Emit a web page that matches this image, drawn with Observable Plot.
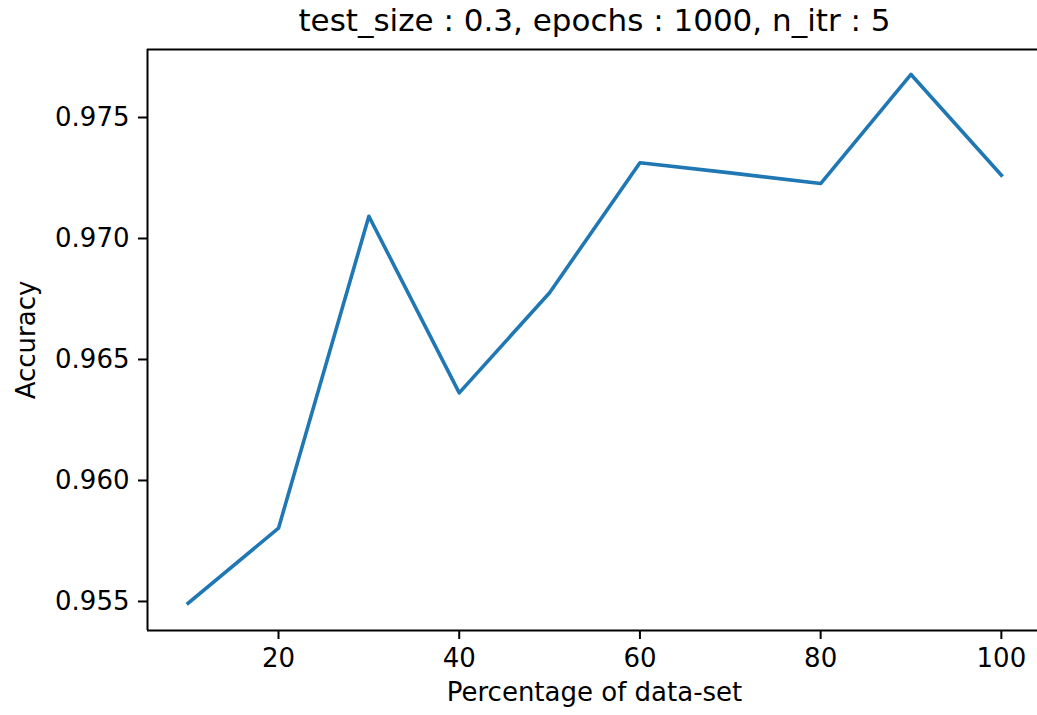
<!DOCTYPE html>
<html>
<head>
<meta charset="utf-8">
<script src="https://cdn.jsdelivr.net/npm/d3@7"></script>
<script src="https://cdn.jsdelivr.net/npm/@observablehq/plot@0.6"></script>
<style>
  html, body { margin: 0; padding: 0; background: #fff; }
  #chart svg { display: block; }
</style>
</head>
<body>
<div id="chart"></div>
<script>
const titleText = "test_size : 0.3, epochs : 1000, n_itr : 5";
const xLabel = "Percentage of data-set";
const yLabel = "Accuracy";
const percentages = [10, 20, 30, 40, 50, 60, 70, 80, 90, 100];
const accuracy = [0.95493, 0.95803, 0.97092, 0.96362, 0.96776, 0.97313, 0.97271, 0.97227, 0.97678, 0.97262];
const xTicks = [20, 40, 60, 80, 100];
const yTicks = [0.955, 0.960, 0.965, 0.970, 0.975];
const xDomain = [5.5, 104];
const yDomain = [0.9538, 0.97781];

const data = percentages.map((p, i) => ({pct: p, acc: accuracy[i]}));

const chart = Plot.plot({
  width: 1037,
  height: 715,
  marginLeft: 147,
  marginRight: 0,
  marginTop: 49,
  marginBottom: 85,
  style: {fontFamily: "DejaVu Sans", fontSize: "26px", color: "#000", background: "#fff"},
  x: {domain: xDomain, ticks: xTicks, label: null},
  y: {domain: yDomain, ticks: yTicks, label: null},
  marks: [
    Plot.axisX({ticks: xTicks, tickSize: 9, tickPadding: 9, strokeWidth: 2, tickFormat: d3.format("d"), label: null}),
    Plot.axisY({ticks: yTicks, tickSize: 9, tickPadding: 9, strokeWidth: 2, tickFormat: d3.format(".3f"), label: null}),
    Plot.ruleX([xDomain[0]], {stroke: "#000", strokeWidth: 2}),
    Plot.ruleY([yDomain[0], yDomain[1]], {stroke: "#000", strokeWidth: 2}),
    Plot.line(data, {x: "pct", y: "acc", stroke: "#1f77b4", strokeWidth: 3.6, strokeLinejoin: "round", strokeLinecap: "square"}),
    Plot.text([titleText], {frameAnchor: "top", lineAnchor: "middle", textAnchor: "middle", dy: -28, dx: 2, fontSize: 31, fill: "#000", text: d => d}),
    Plot.text([xLabel], {frameAnchor: "bottom", lineAnchor: "middle", textAnchor: "middle", dy: 62, dx: 2, fontSize: 26, fill: "#000", text: d => d}),
    Plot.text([yLabel], {frameAnchor: "left", lineAnchor: "middle", textAnchor: "middle", dx: -121, rotate: -90, fontSize: 26, fill: "#000", text: d => d})
  ]
});
document.getElementById("chart").append(chart);
</script>
</body>
</html>
